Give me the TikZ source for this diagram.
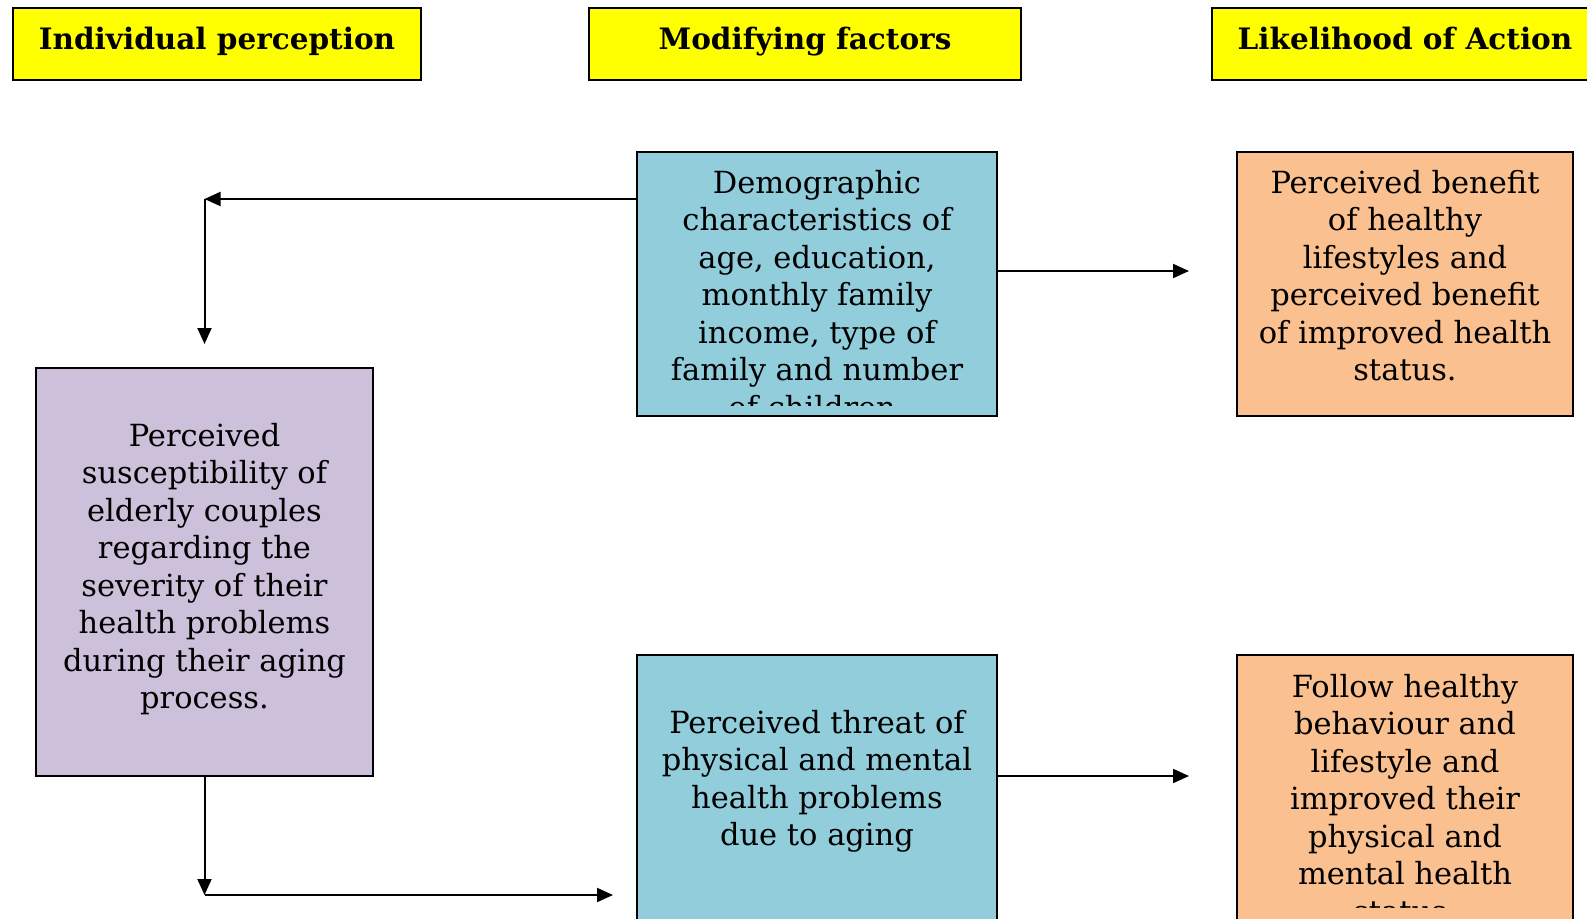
\documentclass[tikz,border=0pt]{standalone}
\usepackage{fontspec}
\setmainfont{DejaVu Serif}
\usetikzlibrary{arrows.meta}
\definecolor{hdr}{HTML}{FFFF00}
\definecolor{bluebox}{HTML}{92CDDC}
\definecolor{orangebox}{HTML}{FAC090}
\definecolor{purplebox}{HTML}{CCC0DA}
\begin{document}
\begin{tikzpicture}[x=1pt,y=-1pt,
  box/.style={draw=black,line width=1.8pt,inner sep=0pt,outer sep=0pt},
  hbox/.style={box,fill=hdr,minimum height=72pt},
  txt/.style={font=\fontsize{30.5}{37.5}\selectfont,align=center,inner sep=0pt,anchor=north},
  htxt/.style={font=\fontsize{29.5}{30}\selectfont\bfseries,inner sep=0pt,anchor=base},
  ln/.style={line width=2pt},
  arr/.style={ln,-{Triangle[length=16pt,width=14pt]}}]
\clip (0,0) rectangle (1587,918);
% header boxes
\node[hbox,minimum width=408pt] (h1) at (217,44) {};
\node[hbox,minimum width=432pt] (h2) at (805,44) {};
\node[hbox,minimum width=386pt] (h3) at (1405,44) {};
\node[htxt] (h1t) at (217,49) {Individual perception};
\node[htxt] (h2t) at (805,49) {Modifying factors};
\node[htxt] (h3t) at (1405,49) {Likelihood of Action};
% content boxes
\node[box,fill=bluebox,minimum width=360pt,minimum height=264pt] (demo) at (817,284) {};
\node[box,fill=orangebox,minimum width=336pt,minimum height=264pt] (ben) at (1405,284) {};
\node[box,fill=purplebox,minimum width=337pt,minimum height=408pt] (sus) at (204.5,572) {};
\node[box,fill=bluebox,minimum width=360pt,minimum height=290pt] (threat) at (817,800) {};
\node[box,fill=orangebox,minimum width=336pt,minimum height=290pt] (follow) at (1405,800) {};
% texts
\begin{scope}
\clip (637,152) rectangle (997,405);
\node[txt] (demot) at (817,170) {Demographic\\characteristics of\\age, education,\\monthly family\\income, type of\\family and number\\of children.};
\end{scope}
\node[txt] (bent) at (1405,170) {Perceived benefit\\of healthy\\lifestyles and\\perceived benefit\\of improved health\\status.};
\node[txt] (sust) at (204.5,423) {Perceived\\susceptibility of\\elderly couples\\regarding the\\severity of their\\health problems\\during their aging\\process.};
\node[txt] (threatt) at (817,710) {Perceived threat of\\physical and mental\\health problems\\due to aging};
\begin{scope}
\clip (1237,655) rectangle (1573,907);
\node[txt] (followt) at (1405,674) {Follow healthy\\behaviour and\\lifestyle and\\improved their\\physical and\\mental health\\status.};
\end{scope}
% connectors
\coordinate (c1) at (204.5,199);
\coordinate (c2) at (204.5,344);
\coordinate (c3) at (204.5,895);
\coordinate (c4) at (613,895);
\coordinate (c5) at (1189,271);
\coordinate (c6) at (1189,776);
\draw[arr] (demo.west |- c1) -- (c1);
\draw[arr] (c1) -- (c2);
\draw[arr] (sus.south) -- (c3);
\draw[arr] (c3) -- (c4);
\draw[arr] (demo.east |- c5) -- (c5);
\draw[arr] (threat.east |- c6) -- (c6);
\end{tikzpicture}
\end{document}
